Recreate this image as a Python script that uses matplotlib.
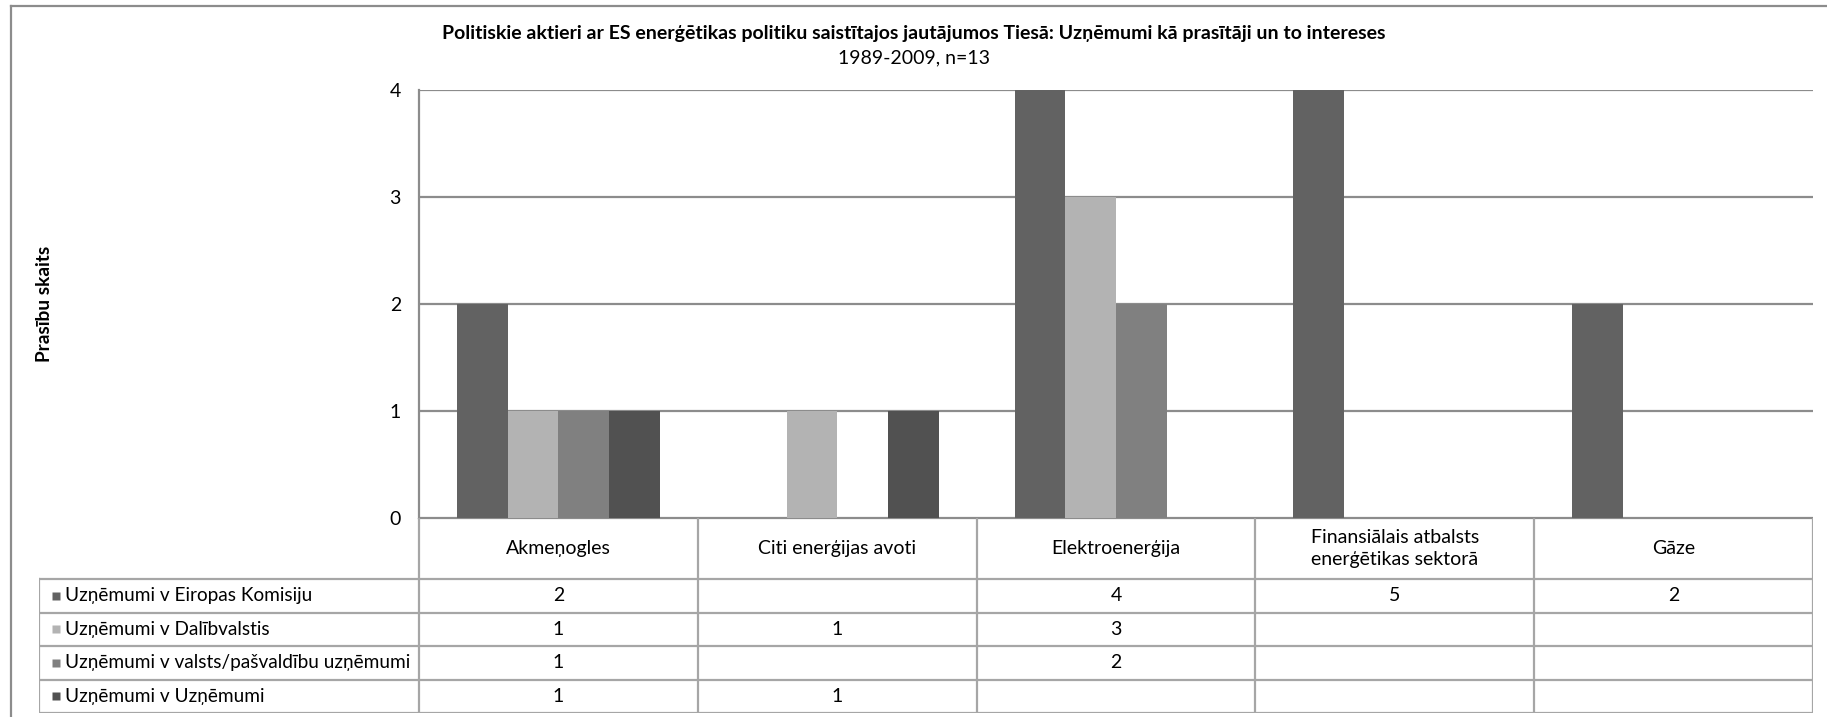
import numpy as np
import matplotlib
matplotlib.use("Agg")
import matplotlib.pyplot as plt

plt.rcParams.update({
    "font.family": ["Lato", "DejaVu Sans"],
    "font.size": 14,
})

categories = ["Akmeņogles", "Citi enerģijas avoti", "Elektroenerģija",
              "Finansiālais atbalsts\nenerģētikas sektorā", "Gāze"]
series_names = ["Uzņēmumi v Eiropas Komisiju", "Uzņēmumi v Dalībvalstis",
                "Uzņēmumi v valsts/pašvaldību uzņēmumi", "Uzņēmumi v Uzņēmumi"]
eiropas_komisiju = [2, None, 4, 5, 2]
dalibvalstis     = [1, 1, 3, None, None]
valsts_uznemumi  = [1, None, 2, None, None]
uznemumi         = [1, 1, None, None, None]
series = [eiropas_komisiju, dalibvalstis, valsts_uznemumi, uznemumi]
colors = ["#626262", "#b3b3b3", "#808080", "#515151"]
yticks = [0, 1, 2, 3, 4]

title = "Politiskie aktieri ar ES enerģētikas politiku saistītajos jautājumos Tiesā: Uzņēmumi kā prasītāji un to intereses"
subtitle = "1989-2009, n=13"
ylabel = "Prasību skaits"

LINE = "#8c8c8c"
TL = "#a6a6a6"
W, H = 1827, 717
fig = plt.figure(figsize=(W / 100, H / 100), dpi=100)

# ---- bar plot ----
ax = fig.add_axes([419 / W, 1 - 518 / H, (1813 - 419) / W, (518 - 90) / H])
x = np.arange(len(categories))
w = 1 / 5.5   # Excel gap width 150%
for i, (vals, col) in enumerate(zip(series, colors)):
    v = np.array([np.nan if a is None else a for a in vals], dtype=float)
    ax.bar(x + (i - 1.5) * w, v, w, color=col, edgecolor="none", zorder=3)
ax.set_xlim(-0.5, len(categories) - 0.5)
ax.set_ylim(0, 4)
ax.set_yticks(yticks)
ax.tick_params(axis="y", length=0, pad=13)
ax.set_xticks([])
for sp in ["top", "right", "bottom"]:
    ax.spines[sp].set_visible(False)
ax.spines["left"].set_color(LINE)
ax.spines["left"].set_linewidth(1.6)
ax.yaxis.grid(True, color=LINE, linewidth=1.6, zorder=1)
ax.set_axisbelow(True)

# ---- data table under the plot ----
tax = fig.add_axes([39 / W, 1 - 713 / H, (1813 - 39) / W, (713 - 518) / H])
unit = (1813 - 419) / len(categories)
left = -0.5 - (419 - 39) / unit
right = len(categories) - 0.5
tax.set_xlim(left, right)
tax.set_ylim(713, 518)
tax.axis("off")
hdr_top, hdr_bot = 518, 579
row_h = (713 - 579) / 4
tax.plot([-0.5, right], [hdr_top, hdr_top], color=LINE, lw=1.6)
for k in range(len(categories) + 1):
    tax.plot([k - 0.5, k - 0.5], [hdr_top, 713], color=TL, lw=1.6)
tax.plot([left, left], [hdr_bot, 713], color=TL, lw=1.6)
for r in range(5):
    yy = hdr_bot + r * row_h
    tax.plot([left, right], [yy, yy], color=TL, lw=1.6)
for k, c in enumerate(categories):
    tax.text(k, (hdr_top + hdr_bot) / 2, c, ha="center", va="center",
             linespacing=1.4)
for r, (name, vals, col) in enumerate(zip(series_names, series, colors)):
    yc = hdr_bot + (r + 0.5) * row_h
    tax.plot(left + 17 / unit, yc, marker="s", ms=6.3, color=col, mec="none")
    tax.text(left + 26 / unit, yc, name, ha="left", va="center", fontsize=13.7)
    for k, v in enumerate(vals):
        if v is not None:
            tax.text(k, yc, str(v), ha="center", va="center")

# ---- titles ----
fig.text(0.5, 1 - 34 / H, title, ha="center", va="center", fontweight="bold")
fig.text(0.5, 1 - 58 / H, subtitle, ha="center", va="center")
fig.text(45 / W, 1 - 304 / H, ylabel, rotation=90, ha="center", va="center",
         fontweight="bold", fontsize=13.7)

# chart-area border
fig.add_artist(plt.Line2D([11 / W, 11 / W], [0, 1 - 6 / H], color=LINE, lw=1.6,
                          transform=fig.transFigure))
fig.add_artist(plt.Line2D([11 / W, 1], [1 - 6 / H, 1 - 6 / H], color=LINE, lw=1.6,
                          transform=fig.transFigure))

fig.savefig("out.png", dpi=100, facecolor="white")
